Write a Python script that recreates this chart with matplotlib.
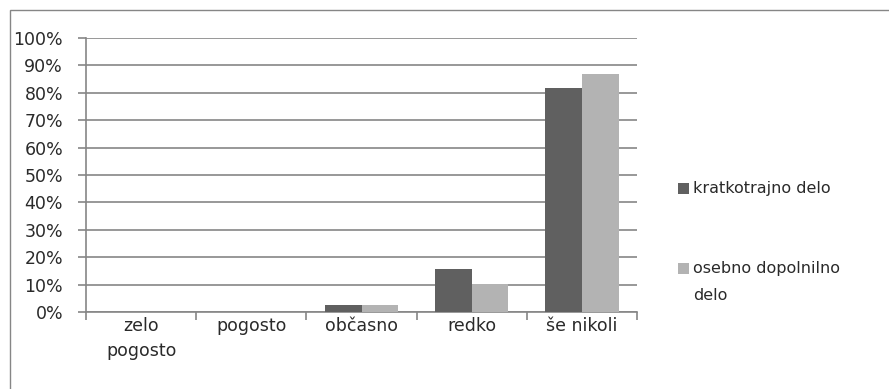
import matplotlib
matplotlib.use("Agg")
import matplotlib.pyplot as plt
import numpy as np
from matplotlib.patches import Rectangle

categories = ["zelo\npogosto", "pogosto", "občasno", "redko", "še nikoli"]
series_names = ["kratkotrajno delo", "osebno dopolnilno\ndelo"]
kratkotrajno = [0.0, 0.0, 2.4, 15.6, 81.6]
osebno = [0.0, 0.0, 2.4, 10.4, 86.8]
series_colors = ["#606060", "#b3b3b3"]
y_ticks = [0, 10, 20, 30, 40, 50, 60, 70, 80, 90, 100]
y_labels = [f"{t}%" for t in y_ticks]

plt.rcParams['font.family'] = ['DejaVu Sans']
gray = "#868686"
text_color = "#2a2a2a"
W, H = 889, 389

fig = plt.figure(figsize=(W/100, H/100), dpi=100)
fig.patches.append(Rectangle((10/W, -0.1), 1.2, 1 - 10/H + 0.1, transform=fig.transFigure,
                             fill=False, edgecolor=gray, linewidth=1.0))
ax = fig.add_axes([86/W, 1 - 312/H, (637 - 86)/W, (312 - 38)/H])

x = np.arange(len(categories))
w = 1/3
ax.bar(x - w/2, kratkotrajno, width=w, color=series_colors[0], zorder=3)
ax.bar(x + w/2, osebno, width=w, color=series_colors[1], zorder=3)

ax.set_xlim(-0.5, len(categories) - 0.5)
ax.set_ylim(0, 100)
ax.set_yticks(y_ticks)
ax.set_yticklabels(y_labels, fontsize=12.5, color=text_color)
ax.set_xticks(np.arange(len(categories) + 1) - 0.5)
ax.set_xticklabels([])
ax.set_xticks(x, minor=True)
ax.set_xticklabels(categories, minor=True, fontsize=12.5, color=text_color, linespacing=1.5)
ax.tick_params(axis='x', which='minor', length=0, pad=3.5)
ax.tick_params(axis='x', which='major', length=6, color=gray, width=1.2)
ax.tick_params(axis='y', length=6, color=gray, width=1.2, pad=10.5)
ax.grid(axis='y', color=gray, linewidth=1.2, zorder=0)
for s in ['top', 'right']:
    ax.spines[s].set_visible(False)
for s in ['left', 'bottom']:
    ax.spines[s].set_color(gray)
    ax.spines[s].set_linewidth(1.2)

# legend drawn manually (square aligned to first text line)
leg_rows = [188, 268]
for name, col, yc in zip(series_names, series_colors, leg_rows):
    fig.patches.append(Rectangle((678/W, 1 - (yc + 5.5)/H), 11/W, 11/H,
                                 transform=fig.transFigure, facecolor=col, edgecolor='none'))
    fig.text(693/W, 1 - (yc - 7)/H, name, fontsize=11.5, color=text_color,
             ha='left', va='top', linespacing=2.0)

fig.savefig("out.png", dpi=100)
